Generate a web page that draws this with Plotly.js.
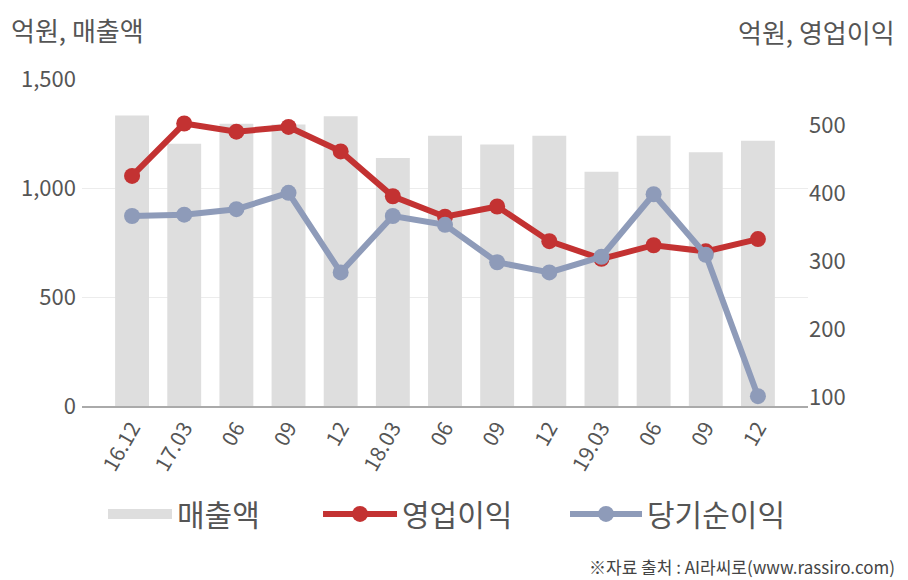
<!DOCTYPE html>
<html>
<head>
<meta charset="utf-8">
<script src="https://cdn.plot.ly/plotly-3.0.1.min.js"></script>
<style>html,body{margin:0;padding:0;background:#fff;}#chart{width:908px;height:580px;}</style>
</head>
<body>
<div id="chart"></div>
<script>
const categories = ["16.12","17.03","06","09","12","18.03","06 ","09 ","12 ","19.03","06  ","09  ","12  "];
const tickLabels = ["16.12","17.03","06","09","12","18.03","06","09","12","19.03","06","09","12"];
const sales = [1332, 1203, 1295, 1291, 1329, 1138, 1240, 1199, 1240, 1075, 1240, 1164, 1217];
const operatingProfit = [426, 503, 491, 498, 462, 396, 366, 381, 330, 304, 324, 315, 333];
const netProfit = [367, 369, 377, 401, 284, 367, 354, 299, 284, 307, 399, 310, 102];
const seriesNames = ["매출액", "영업이익", "당기순이익"];

const FONT = '"Noto Sans CJK KR", "Noto Sans", sans-serif';
const BAR_COLOR = '#dedede', RED = '#c33232', BLUE = '#8e9bb9';

const traces = [
  {
    type: 'bar', x: categories, y: sales, name: seriesNames[0], showlegend: false,
    marker: {color: BAR_COLOR}, width: 0.65, yaxis: 'y'
  },
  {
    // legend entry for the bars (wide swatch)
    type: 'scatter', mode: 'lines', x: [null], y: [null], name: seriesNames[0],
    line: {color: BAR_COLOR, width: 20}, legend: 'legend', hoverinfo: 'skip'
  },
  {
    type: 'scatter', mode: 'lines+markers', x: categories, y: operatingProfit, name: seriesNames[1],
    line: {color: RED, width: 6}, marker: {color: RED, size: 16}, yaxis: 'y2', legend: 'legend2'
  },
  {
    type: 'scatter', mode: 'lines+markers', x: categories, y: netProfit, name: seriesNames[2],
    line: {color: BLUE, width: 6}, marker: {color: BLUE, size: 16}, yaxis: 'y2', legend: 'legend3'
  }
];

const legFont = {size: 30, color: '#555', family: FONT};
const legBase = {orientation: 'h', xanchor: 'left', y: -0.33, yanchor: 'middle', font: legFont, bgcolor: 'rgba(0,0,0,0)'};

const layout = {
  width: 908, height: 580,
  margin: {l: 82, r: 100, t: 79, b: 173.5},
  paper_bgcolor: '#fff', plot_bgcolor: '#fff',
  font: {family: FONT, color: '#555'},
  showlegend: true,
  legend: Object.assign({}, legBase, {x: 0.0289, itemwidth: 64}),
  legend2: Object.assign({}, legBase, {x: 0.3251, itemwidth: 74}),
  legend3: Object.assign({}, legBase, {x: 0.6653, itemwidth: 72}),
  xaxis: {
    type: 'category', range: [-0.96, 12.96],
    tickvals: categories, ticktext: tickLabels,
    tickangle: -60, tickfont: {size: 21, color: '#555'},
    showline: true, linecolor: '#aaa', linewidth: 1.5,
    showgrid: false, ticks: '', zeroline: false
  },
  yaxis: {
    range: [0, 1500], tickvals: [0, 500, 1000, 1500], ticktext: ['0', '500', '1,000', '1,500'],
    tickfont: {size: 22, color: '#555'},
    showgrid: true, gridcolor: '#ececec', gridwidth: 1,
    ticks: '', ticklabelstandoff: 5, zeroline: false
  },
  yaxis2: {
    overlaying: 'y', side: 'right', range: [87.5, 568.5],
    tickvals: [100, 200, 300, 400, 500],
    tickfont: {size: 22, color: '#555'},
    showgrid: false, zeroline: false, ticks: ''
  },
  annotations: [
    {text: '억원, 매출액', xref: 'paper', yref: 'paper', x: -0.1, xanchor: 'left',
     y: 1.15, yanchor: 'middle', showarrow: false, font: {size: 26, color: '#555', family: FONT}},
    {text: '억원, 영업이익', xref: 'paper', yref: 'paper', x: 1.123, xanchor: 'right',
     y: 1.145, yanchor: 'middle', showarrow: false, font: {size: 26, color: '#555', family: FONT}},
    {text: '※자료 출처 : AI라씨로(www.rassiro.com)', xref: 'paper', yref: 'paper', x: 1.123, xanchor: 'right',
     y: -0.49, yanchor: 'middle', showarrow: false, font: {size: 17, color: '#444', family: FONT}}
  ]
};

Plotly.newPlot('chart', traces, layout, {displayModeBar: false, staticPlot: true});
</script>
</body>
</html>
